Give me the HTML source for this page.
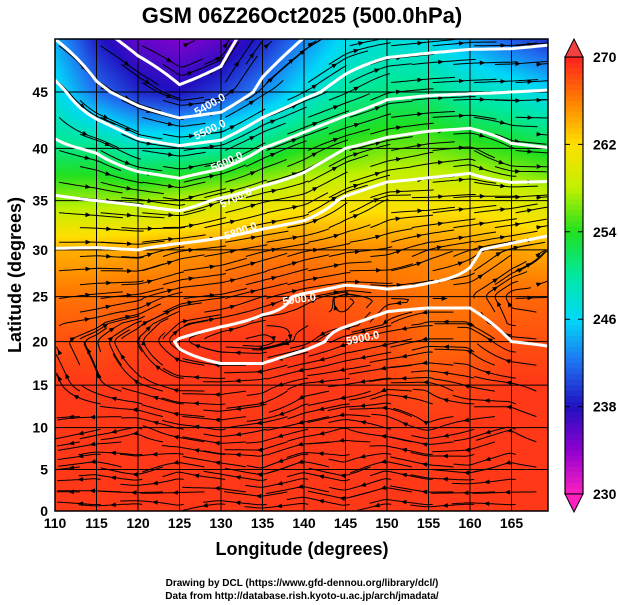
<!DOCTYPE html>
<html><head><meta charset="utf-8"><style>
body{margin:0;background:#fff;width:619px;height:605px;overflow:hidden;font-family:"Liberation Sans",sans-serif}
#wrap{position:relative;width:619px;height:605px}
canvas{position:absolute;left:55px;top:39px}
svg{position:absolute;left:0;top:0}
</style></head><body><div id="wrap">
<canvas id="field" width="493" height="472"></canvas>
<svg id="svg" width="619" height="605">
<text x="302" y="23" text-anchor="middle" font-size="22" font-weight="bold">GSM 06Z26Oct2025 (500.0hPa)</text>
<text x="302" y="555" text-anchor="middle" font-size="18" font-weight="bold">Longitude (degrees)</text>
<text transform="translate(21,275) rotate(-90)" text-anchor="middle" font-size="18" font-weight="bold">Latitude  (degrees)</text>
<text x="302" y="586" text-anchor="middle" font-size="10" font-weight="bold">Drawing by DCL (https://www.gfd-dennou.org/library/dcl/)</text>
<text x="302" y="599" text-anchor="middle" font-size="10" font-weight="bold">Data from http://database.rish.kyoto-u.ac.jp/arch/jmadata/</text>
<g id="grid"></g><g id="stream"></g><g id="cont"></g><g id="labels"></g><g id="axes"></g><g id="cbar"></g>
</svg></div>
<script>
const lons=[110,115,120,125,130,135,140,145,150,155,160,165,170];
const lats=[50,45,40,35,30,25,20,15,10,5,0];
const temp=[
[244,238,235,234,235,238,242,246,247,246,243,240,238],
[247,242,239,238,240,243,247,250,251,251,249,248,246],
[251,251,249,249,250,252,254,255,256,256,255,254,253],
[257,257,257,258,259,260,261,261,261,261,261,260,259],
[264,264,264.5,265,265.5,266,266,265.5,265.5,265.5,265,264.5,264],
[266.5,266.5,267,267,267.5,268,268,267.5,267,266.5,266.5,267,267],
[268,268,268.5,269,269,269,269,268.5,268,267,267,268,268],
[269,269,269,269,269,269,269,269,268.5,268,268.5,269,269],
[269,269,269,269,269,269,269,269,269,269,269,269,269],
[269,269,269,269,269,269,269,269,269,269,269,269,269],
[269,269,269,269,269,269,269,269,269,269,269,269,269]];
const hgt=[
[5380,5310,5260,5230,5260,5340,5390,5430,5440,5450,5460,5460,5470],
[5530,5420,5360,5310,5330,5420,5480,5530,5580,5590,5595,5600,5605],
[5615,5590,5530,5510,5530,5600,5650,5700,5730,5750,5760,5710,5700],
[5710,5700,5690,5670,5710,5740,5760,5810,5840,5840,5845,5850,5860],
[5803,5805,5800,5820,5830,5845,5860,5870,5875,5888,5897,5908,5918],
[5850,5855,5860,5875,5880,5892,5903,5910,5905,5905,5905,5915,5915],
[5870,5875,5885,5902,5910,5912,5905,5895,5890,5885,5885,5900,5902],
[5875,5880,5885,5890,5890,5888,5880,5878,5875,5875,5878,5880,5885],
[5880,5878,5876,5880,5882,5880,5878,5876,5878,5880,5878,5876,5880],
[5878,5877,5879,5876,5878,5880,5877,5879,5876,5878,5879,5877,5878],
[5875,5876,5875,5877,5875,5876,5875,5877,5875,5876,5875,5876,5875]];
const levels=[5300,5400,5500,5600,5700,5800,5900];
const xTicks=[110,115,120,125,130,135,140,145,150,155,160,165];
const yTicks=[0,5,10,15,20,25,30,35,40,45];
const cbTicks=[230,238,246,254,262,270];
const cStops=[[230,"#ff20c0"],[234,"#9000d0"],[238,"#2010c0"],[242,"#2070f0"],[246,"#00d8f8"],[250,"#00e8a0"],[254,"#20e020"],[258,"#c0f000"],[262,"#ffe000"],[266,"#ff8000"],[270,"#ff2020"]];

const K=475.4, D=Math.PI/180;
const X=lon=>55+(lon-110)*8.3;
const Y=lat=>511-K*Math.log(Math.tan(Math.PI/4+lat*D/2));
const invY=y=>(2*Math.atan(Math.exp((511-y)/K))-Math.PI/2)/D;
const NS="http://www.w3.org/2000/svg";
function mk(t,a,p){const e=document.createElementNS(NS,t);for(const k in a)e.setAttribute(k,a[k]);p.appendChild(e);return e;}
function interp(g,lon,lat){let fi=(lon-110)/5,fj=(50-lat)/5;fi=Math.max(0,Math.min(11.999,fi));fj=Math.max(0,Math.min(9.999,fj));
const i=Math.floor(fi),j=Math.floor(fj),a=fi-i,b=fj-j;
return g[j][i]*(1-a)*(1-b)+g[j][i+1]*a*(1-b)+g[j+1][i]*(1-a)*b+g[j+1][i+1]*a*b;}
function hex(h){return [parseInt(h.substr(1,2),16),parseInt(h.substr(3,2),16),parseInt(h.substr(5,2),16)];}
function cmap(v){v=Math.max(230,Math.min(270,v));for(let k=0;k<cStops.length-1;k++){if(v<=cStops[k+1][0]){const t=(v-cStops[k][0])/4,c1=hex(cStops[k][1]),c2=hex(cStops[k+1][1]);return c1.map((c,q)=>Math.round(c+(c2[q]-c)*t));}}return hex("#ff2020");}
// field
const cv=document.getElementById('field'),ctx=cv.getContext('2d'),img=ctx.createImageData(493,472);
for(let py=0;py<472;py++){const lat=invY(39+py+0.5);for(let px=0;px<493;px++){const lon=110+(px+0.5)/8.3;const c=cmap(interp(temp,lon,lat));const o=(py*493+px)*4;img.data[o]=c[0];img.data[o+1]=c[1];img.data[o+2]=c[2];img.data[o+3]=255;}}
ctx.putImageData(img,0,0);
// grid
const gG=document.getElementById('grid');
for(let lon=110;lon<=165;lon+=5){mk('line',{x1:X(lon),x2:X(lon),y1:39,y2:511,stroke:'#000','stroke-width':1,},gG);}
for(let lat=0;lat<=45;lat+=5){mk('line',{x1:55,x2:548,y1:Y(lat),y2:Y(lat),stroke:'#000','stroke-width':1,},gG);}
// streamlines (geostrophic direction from height)
const sG=document.getElementById('stream');
function vel(lon,lat){const d=0.5;let u=-(interp(hgt,lon,lat+d)-interp(hgt,lon,lat-d));let v=(interp(hgt,lon+d,lat)-interp(hgt,lon-d,lat));u+=lat<22?-1.5:2;const m=Math.hypot(u,v)||1;return [u/m,v/m];}
let row=0;
for(let lat=0.8;lat<49.5;lat+=1.5){row++;for(let lon=108+(row%2)*2.5;lon<170;lon+=5){
 let p=[[lon,lat]],x=lon,y=lat;
 for(let s=0;s<22;s++){const [u,v]=vel(x,y);x+=u*0.35;y+=v*0.35;if(x<110||x>169.4||y<0||y>49.3)break;p.push([x,y]);}
 p=p.filter(q=>q[0]>=110);if(p.length<3)continue;
 const d=p.map((q,k)=>(k?'L':'M')+X(q[0]).toFixed(1)+' '+Y(q[1]).toFixed(1)).join('');
 const e=mk('path',{d:d,fill:'none',stroke:'#000','stroke-width':1},sG);
 
 const m=Math.floor(p.length/2),a=p[m],b=p[m-1];const ax=X(a[0]),ay=Y(a[1]),ang=Math.atan2(ay-Y(b[1]),ax-X(b[0]));
 const h=mk('path',{d:`M${ax} ${ay}L${ax-6*Math.cos(ang-0.4)} ${ay-6*Math.sin(ang-0.4)}L${ax-6*Math.cos(ang+0.4)} ${ay-6*Math.sin(ang+0.4)}Z`,fill:'#000'},sG);
 
}}
// contours (marching squares on 0.5 deg grid)
const cG=document.getElementById('cont');
const st=0.5,nx=Math.round(59.4/st),ny=Math.round(49.5/st);
const Z=[];for(let j=0;j<=ny;j++){Z.push([]);for(let i=0;i<=nx;i++)Z[j].push(interp(hgt,110+i*st,j*st));}
levels.forEach(L=>{let d='';
 for(let j=0;j<ny;j++)for(let i=0;i<nx;i++){const v=[Z[j][i],Z[j][i+1],Z[j+1][i+1],Z[j+1][i]];const c=[[0,0],[1,0],[1,1],[0,1]];const pts=[];
  for(let k=0;k<4;k++){const a=v[k],b=v[(k+1)%4];if((a<L)!=(b<L)){const t=(L-a)/(b-a);const ca=c[k],cb=c[(k+1)%4];pts.push([110+(i+ca[0]+(cb[0]-ca[0])*t)*st,(j+ca[1]+(cb[1]-ca[1])*t)*st]);}}
  for(let k=0;k+1<pts.length;k+=2)d+=`M${X(pts[k][0]).toFixed(1)} ${Y(pts[k][1]).toFixed(1)}L${X(pts[k+1][0]).toFixed(1)} ${Y(pts[k+1][1]).toFixed(1)}`;}
 const e=mk('path',{d:d,fill:'none',stroke:'#fff','stroke-width':3,'stroke-linecap':'round'},cG);
 
});
// axes
const aG=document.getElementById('axes');
mk('rect',{x:55,y:39,width:493,height:472,fill:'none',stroke:'#000','stroke-width':1.5,},aG);
xTicks.forEach(t=>{mk('line',{x1:X(t),x2:X(t),y1:511,y2:506,stroke:'#000'},aG);const e=mk('text',{x:X(t),y:528,'text-anchor':'middle','font-size':14,'font-weight':'bold'},aG);e.textContent=t;});
yTicks.forEach(t=>{const e=mk('text',{x:48,y:Y(t)+5,'text-anchor':'end','font-size':14,'font-weight':'bold'},aG);e.textContent=t;});
// colorbar
const bG=document.getElementById('cbar');const bx=565,bw=18,by0=494,by1=57;const CY=v=>by0-(v-230)/40*(by0-by1);
for(let v=230;v<270;v+=0.5){const c=cmap(v+0.25);mk('rect',{x:bx,y:CY(v+0.5),width:bw,height:(by0-by1)/80+0.3,fill:`rgb(${c})`},bG);}
mk('rect',{x:bx,y:by1,width:bw,height:by0-by1,fill:'none',stroke:'#000','stroke-width':1.2,},bG);
mk('path',{d:`M${bx} ${by1}L${bx+bw/2} 39L${bx+bw} ${by1}Z`,fill:'#f04040',stroke:'#000',},bG);
mk('path',{d:`M${bx} ${by0}L${bx+bw/2} 512L${bx+bw} ${by0}Z`,fill:'#ff20c0',stroke:'#000',},bG);
cbTicks.forEach(t=>{mk('line',{x1:bx,x2:bx+bw,y1:CY(t),y2:CY(t),stroke:'#000','stroke-dasharray':'5 8'},bG);const e=mk('text',{x:593,y:CY(t)+5,'font-size':14,'font-weight':'bold'},bG);e.textContent=t;});
</script>
<svg width="619" height="605" style="position:absolute;left:0;top:0">
<g fill="#fff" font-size="11" font-weight="bold">
<text transform="translate(197,116) rotate(-30)">5400.0</text>
<text transform="translate(196,140) rotate(-25)">5500.0</text>
<text transform="translate(213,172) rotate(-25)">5600.0</text>
<text transform="translate(222,208) rotate(-25)">5700.0</text>
<text transform="translate(226,240) rotate(-20)">5800.0</text>
<text transform="translate(283,305) rotate(-8)">5900.0</text>
<text transform="translate(347,345) rotate(-12)">5900.0</text>
</g></svg>
</body></html>
